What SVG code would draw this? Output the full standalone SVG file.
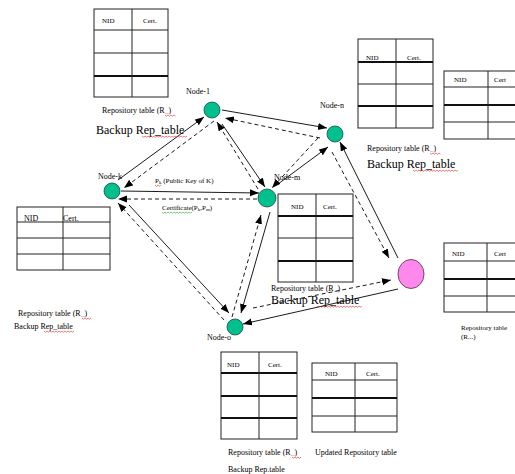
<svg xmlns="http://www.w3.org/2000/svg" width="515" height="474" viewBox="0 0 515 474" font-family="'Liberation Serif', 'DejaVu Serif', serif">
<style>
text{font-family:"Liberation Serif","DejaVu Serif",serif;fill:#000}
.s{font-size:7px}
.r{font-size:8px}
.b{font-size:12px}
.tb{fill:#fff;stroke:#222;stroke-width:1}
.tl{stroke:#222;stroke-width:1}
.tk{stroke:#111;stroke-width:2}
.node{fill:#00C08E;stroke:#1d4a3a;stroke-width:0.8}
.c{stroke:#000;stroke-width:0.9;fill:none;marker-end:url(#ah)}
.d{stroke-dasharray:4 3}
.sq{fill:none;stroke:#e02020;stroke-width:0.6}
.sg{fill:none;stroke:#20a020;stroke-width:0.6}
</style>
<defs>
<marker id="ah" markerUnits="userSpaceOnUse" markerWidth="10" markerHeight="8" refX="9" refY="3.5" orient="auto">
<path d="M0,0 L9,3.5 L0,7 z" fill="#000"/>
</marker>
</defs>
<rect width="515" height="474" fill="#fff"/>

<g id="connectors">
<line class="c" x1="118" y1="180" x2="204" y2="117"/>
<line class="c d" x1="214" y1="121" x2="124" y2="188"/>
<line class="c" x1="222" y1="110" x2="327" y2="128"/>
<line class="c d" x1="320" y1="138" x2="225" y2="118"/>
<line class="c" x1="222" y1="124" x2="265" y2="187"/>
<line class="c d" x1="258" y1="189" x2="217" y2="122"/>
<line class="c d" x1="318" y1="138" x2="272" y2="188"/>
<line class="c" x1="278" y1="184" x2="328" y2="147"/>
<line class="c" x1="121" y1="191" x2="259" y2="193"/>
<line class="c d" x1="257" y1="199" x2="118" y2="199"/>
<line class="c" x1="129" y1="205" x2="229" y2="313"/>
<line class="c d" x1="224" y1="320" x2="118" y2="203"/>
<line class="c" x1="270" y1="212" x2="241" y2="313"/>
<line class="c d" x1="232" y1="317" x2="261" y2="215"/>
<line class="c d" x1="253" y1="308" x2="391" y2="280"/>
<line class="c" x1="398" y1="289" x2="243" y2="324"/>
<line class="c d" x1="332" y1="152" x2="389" y2="258"/>
<line class="c" x1="398" y1="258" x2="340" y2="142"/>
</g>

<g id="table-node1">
<rect class="tb" x="94" y="9" width="74" height="88"/>
<line class="tl" x1="94" y1="30" x2="168" y2="30"/>
<line class="tl" x1="94" y1="53" x2="168" y2="53"/>
<line class="tk" x1="94" y1="76" x2="168" y2="76"/>
<line class="tl" x1="132" y1="9" x2="132" y2="97"/>
<text class="s" x="102" y="23">NID</text>
<text class="s" x="143" y="23">Cert.</text>
<text class="r" x="102" y="113">Repository table (R<tspan font-size="5" dy="1">...</tspan><tspan dy="-1">)</tspan></text>
<path class="sq" d="M165,115 l1.5,1.2 l1.5,-1.2 l1.5,1.2 l1.5,-1.2 l1.5,1.2 l1.5,-1.2 l1.5,1.2"/>
<text class="b" x="96" y="134">Backup Rep_table</text>
<path class="sq" d="M142,136 l1.5,1.2 l1.5,-1.2 l1.5,1.2 l1.5,-1.2 l1.5,1.2 l1.5,-1.2 l1.5,1.2 l1.5,-1.2 l1.5,1.2 l1.5,-1.2 l1.5,1.2 l1.5,-1.2 l1.5,1.2 l1.5,-1.2 l1.5,1.2 l1.5,-1.2 l1.5,1.2 l1.5,-1.2 l1.5,1.2 l1.5,-1.2 l1.5,1.2 l1.5,-1.2 l1.5,1.2 l1.5,-1.2 l1.5,1.2 l1.5,-1.2 l1.5,1.2 l1.5,-1.2 l1.5,1.2 l1.5,-1.2"/>
</g>

<g id="node-1">
<circle class="node" cx="212" cy="110" r="8"/>
<text class="r" x="186" y="94">Node-1</text>
</g>

<g id="table-noden">
<rect class="tb" x="358" y="39" width="75" height="89"/>
<line class="tk" x1="358" y1="62" x2="433" y2="62"/>
<line class="tl" x1="358" y1="84" x2="433" y2="84"/>
<line class="tk" x1="358" y1="106" x2="433" y2="106"/>
<line class="tl" x1="396" y1="39" x2="396" y2="128"/>
<text class="s" x="366" y="60">NID</text>
<text class="s" x="407" y="60">Cert.</text>
<rect class="tb" x="444" y="71" width="80" height="68"/>
<line class="tl" x1="444" y1="87" x2="524" y2="87"/>
<line class="tk" x1="444" y1="105" x2="524" y2="105"/>
<line class="tl" x1="444" y1="122" x2="524" y2="122"/>
<line class="tl" x1="488" y1="71" x2="488" y2="139"/>
<text class="s" x="454" y="82">NID</text>
<text class="s" x="494" y="82">Cert</text>
<text class="r" x="367" y="151">Repository table (R<tspan font-size="5" dy="1">...</tspan><tspan dy="-1">)</tspan></text>
<path class="sq" d="M430,153 l1.5,1.2 l1.5,-1.2 l1.5,1.2 l1.5,-1.2 l1.5,1.2 l1.5,-1.2 l1.5,1.2"/>
<text class="b" x="367" y="168">Backup Rep_table</text>
<path class="sq" d="M413,170 l1.5,1.2 l1.5,-1.2 l1.5,1.2 l1.5,-1.2 l1.5,1.2 l1.5,-1.2 l1.5,1.2 l1.5,-1.2 l1.5,1.2 l1.5,-1.2 l1.5,1.2 l1.5,-1.2 l1.5,1.2 l1.5,-1.2 l1.5,1.2 l1.5,-1.2 l1.5,1.2 l1.5,-1.2 l1.5,1.2 l1.5,-1.2 l1.5,1.2 l1.5,-1.2 l1.5,1.2 l1.5,-1.2 l1.5,1.2 l1.5,-1.2 l1.5,1.2 l1.5,-1.2 l1.5,1.2 l1.5,-1.2"/>
</g>

<g id="node-n">
<circle class="node" cx="335" cy="134" r="8"/>
<text class="r" x="320" y="108">Node-n</text>
</g>

<g id="node-k">
<circle class="node" cx="112" cy="191" r="8"/>
<text class="r" x="98" y="179">Node-k</text>
</g>

<g id="labels-km">
<text class="s" x="155" y="183">P<tspan font-size="5" dy="1">k</tspan><tspan dy="-1"> (Public Key of K)</tspan></text>
<path class="sq" d="M155,185 l1.5,1.2 l1.5,-1.2 l1.5,1.2 l1.5,-1.2"/>
<text class="s" x="162" y="210">Certificate(P<tspan font-size="5" dy="1">k</tspan><tspan dy="-1">,P</tspan><tspan font-size="5" dy="1">m</tspan><tspan dy="-1">)</tspan></text>
<path class="sg" d="M162,212 l1.5,1.2 l1.5,-1.2 l1.5,1.2 l1.5,-1.2 l1.5,1.2 l1.5,-1.2 l1.5,1.2 l1.5,-1.2 l1.5,1.2 l1.5,-1.2 l1.5,1.2 l1.5,-1.2 l1.5,1.2 l1.5,-1.2 l1.5,1.2 l1.5,-1.2 l1.5,1.2 l1.5,-1.2 l1.5,1.2 l1.5,-1.2"/>
</g>

<g id="node-m">
<circle class="node" cx="267" cy="198" r="9"/>
<text class="r" x="274" y="180">Node-m</text>
</g>

<g id="table-nodek">
<rect class="tb" x="17" y="207" width="93" height="63"/>
<line class="tl" x1="17" y1="222" x2="110" y2="222"/>
<line class="tl" x1="17" y1="238" x2="110" y2="238"/>
<line class="tl" x1="17" y1="254" x2="110" y2="254"/>
<line class="tl" x1="63" y1="207" x2="63" y2="270"/>
<text class="r" x="24" y="221">NID</text>
<text class="r" x="63" y="221">Cert.</text>
<text class="r" x="18" y="316">Repository table (R<tspan font-size="5" dy="1">...</tspan><tspan dy="-1">)</tspan></text>
<path class="sq" d="M82,318 l1.5,1.2 l1.5,-1.2 l1.5,1.2 l1.5,-1.2 l1.5,1.2 l1.5,-1.2"/>
<text class="r" x="14" y="329">Backup Rep_table</text>
<path class="sq" d="M44,331 l1.5,1.2 l1.5,-1.2 l1.5,1.2 l1.5,-1.2 l1.5,1.2 l1.5,-1.2 l1.5,1.2 l1.5,-1.2 l1.5,1.2 l1.5,-1.2 l1.5,1.2 l1.5,-1.2 l1.5,1.2 l1.5,-1.2 l1.5,1.2 l1.5,-1.2 l1.5,1.2 l1.5,-1.2 l1.5,1.2 l1.5,-1.2"/>
</g>

<g id="table-nodem">
<rect class="tb" x="278" y="194" width="75" height="88"/>
<line class="tk" x1="278" y1="216" x2="353" y2="216"/>
<line class="tl" x1="278" y1="238" x2="353" y2="238"/>
<line class="tk" x1="278" y1="261" x2="353" y2="261"/>
<line class="tl" x1="316" y1="194" x2="316" y2="282"/>
<text class="s" x="291" y="209">NID</text>
<text class="s" x="323" y="209">Cert.</text>
<text class="r" x="271" y="291">Repository table (R<tspan font-size="5" dy="1">...</tspan><tspan dy="-1">)</tspan></text>
<text class="b" x="271" y="304">Backup Rep_table</text>
<path class="sq" d="M317,306 l1.5,1.2 l1.5,-1.2 l1.5,1.2 l1.5,-1.2 l1.5,1.2 l1.5,-1.2 l1.5,1.2 l1.5,-1.2 l1.5,1.2 l1.5,-1.2 l1.5,1.2 l1.5,-1.2 l1.5,1.2 l1.5,-1.2 l1.5,1.2 l1.5,-1.2 l1.5,1.2 l1.5,-1.2 l1.5,1.2 l1.5,-1.2 l1.5,1.2 l1.5,-1.2 l1.5,1.2 l1.5,-1.2 l1.5,1.2 l1.5,-1.2 l1.5,1.2 l1.5,-1.2 l1.5,1.2 l1.5,-1.2"/>
</g>

<g id="node-pink">
<ellipse cx="411" cy="274" rx="13" ry="14.5" fill="#FF88EC" stroke="#5a2a50" stroke-width="0.8"/>
</g>

<g id="table-pink">
<rect class="tb" x="444" y="243" width="80" height="69"/>
<line class="tl" x1="444" y1="261" x2="524" y2="261"/>
<line class="tk" x1="444" y1="279" x2="524" y2="279"/>
<line class="tl" x1="444" y1="296" x2="524" y2="296"/>
<line class="tl" x1="487" y1="243" x2="487" y2="312"/>
<text class="s" x="452" y="256">NID</text>
<text class="s" x="494" y="256">Cert</text>
<text class="s" x="461" y="330">Repository table</text>
<text class="s" x="461" y="339">(R...)</text>
</g>

<g id="node-o">
<circle class="node" cx="235" cy="327" r="8"/>
<text class="r" x="207" y="340">Node-o</text>
</g>

<g id="table-nodeo">
<rect class="tb" x="221" y="352" width="76" height="87"/>
<line class="tk" x1="221" y1="373" x2="297" y2="373"/>
<line class="tk" x1="221" y1="396" x2="297" y2="396"/>
<line class="tk" x1="221" y1="418" x2="297" y2="418"/>
<line class="tl" x1="259" y1="352" x2="259" y2="439"/>
<text class="s" x="227" y="367">NID</text>
<text class="s" x="268" y="367">Cert.</text>
<text class="r" x="228" y="455">Repository table (R<tspan font-size="5" dy="1">...</tspan><tspan dy="-1">)</tspan></text>
<path class="sq" d="M292,457 l1.5,1.2 l1.5,-1.2 l1.5,1.2 l1.5,-1.2 l1.5,1.2 l1.5,-1.2"/>
<text class="r" x="228" y="472">Backup Rep.table</text>
</g>

<g id="table-updated">
<rect class="tb" x="312" y="363" width="85" height="69"/>
<line class="tl" x1="312" y1="380" x2="397" y2="380"/>
<line class="tk" x1="312" y1="398" x2="397" y2="398"/>
<line class="tl" x1="312" y1="416" x2="397" y2="416"/>
<line class="tl" x1="355" y1="363" x2="355" y2="432"/>
<text class="s" x="325" y="376">NID</text>
<text class="s" x="366" y="376">Cert.</text>
<text class="r" x="315" y="455">Updated Repository table</text>
</g>
</svg>
